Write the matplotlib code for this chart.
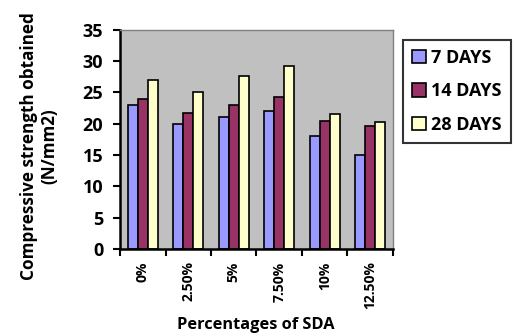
import matplotlib.pyplot as plt
import numpy as np

plt.rcParams['font.family'] = ['Open Sans', 'DejaVu Sans']
plt.rcParams['font.weight'] = 'bold'

categories = ['0%', '2.50%', '5%', '7.50%', '10%', '12.50%']
days_7 = [23, 20, 21.1, 22, 18, 15]
days_14 = [24, 21.8, 23, 24.3, 20.4, 19.6]
days_28 = [27, 25, 27.6, 29.3, 21.6, 20.3]

series = [('7 DAYS', days_7, '#9999FF'),
          ('14 DAYS', days_14, '#993366'),
          ('28 DAYS', days_28, '#FFFFCC')]

fig = plt.figure(figsize=(5.14, 3.36), dpi=100)
ax = fig.add_axes([0.2335, 0.259, 0.531, 0.652])
ax.set_facecolor('#C0C0C0')

x = np.arange(len(categories))
w = 0.22
for i, (name, vals, col) in enumerate(series):
    ax.bar(x + (i - 1) * w, vals, w, color=col, edgecolor='black',
           linewidth=1.2, label=name)

ax.set_xlim(-0.5, len(categories) - 0.5)
ax.set_ylim(0, 35)
ax.set_yticks(range(0, 36, 5))
ax.set_xticks(np.arange(-0.5, len(categories), 1.0))
ax.set_xticklabels([])
ax.set_xticks(x, minor=True)
ax.set_xticklabels(categories, minor=True, rotation=90, fontsize=10,
                   fontweight='bold')
ax.tick_params(axis='x', which='minor', length=0, pad=9)
ax.tick_params(axis='x', which='major', length=5, width=1.5)
ax.tick_params(axis='y', length=5, width=1.5, labelsize=13, pad=7)
for lab in ax.get_yticklabels():
    lab.set_fontweight('bold')

for side in ['top', 'right']:
    ax.spines[side].set_color('#808080')
    ax.spines[side].set_linewidth(1)
for side in ['left', 'bottom']:
    ax.spines[side].set_linewidth(1.8)

fig.text(39 / 514, 1 - 146 / 336, 'Compressive strength obtained\n(N/mm2)',
         rotation=90, ha='center', va='center', fontsize=12.3,
         fontweight='bold', linespacing=1.15)
fig.text(0.498, 0.033, 'Percentages of SDA', ha='center', va='center',
         fontsize=11.8, fontweight='bold')

leg = fig.legend(loc='upper left', bbox_to_anchor=(403 / 514, 1 - 40 / 336),
                 fontsize=13, frameon=True, fancybox=False,
                 edgecolor='black', handlelength=0.75, handleheight=0.75,
                 handletextpad=0.3, labelspacing=0.85, borderpad=0.5,
                 borderaxespad=0)
leg.get_frame().set_linewidth(1.5)
for t in leg.get_texts():
    t.set_fontweight('bold')

fig.savefig('out.png', dpi=100)
